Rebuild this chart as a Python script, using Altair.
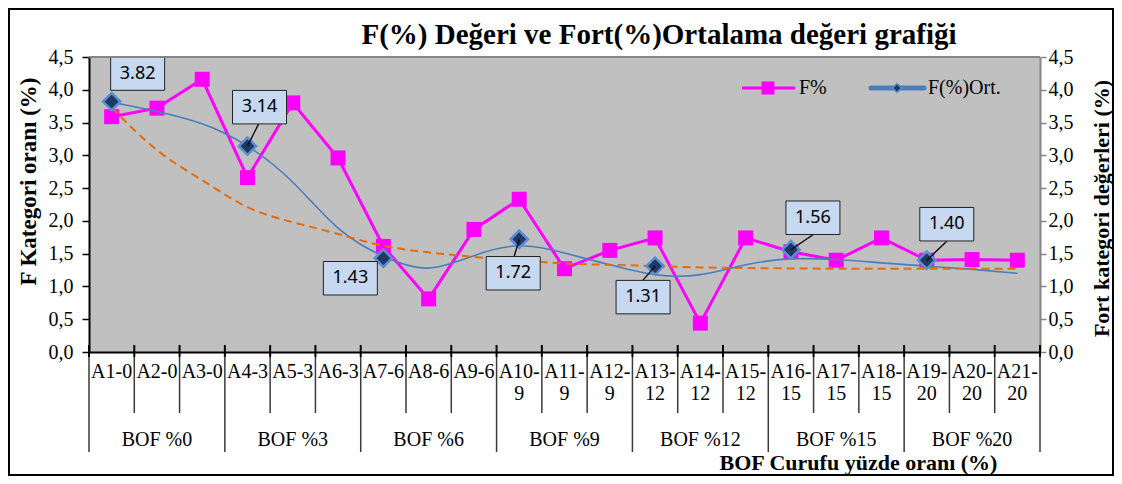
import altair as alt
import pandas as pd

# ---------------- data ----------------
CATEGORIES = ["A1-0", "A2-0", "A3-0", "A4-3", "A5-3", "A6-3", "A7-6", "A8-6", "A9-6",
              "A10-9", "A11-9", "A12-9", "A13-12", "A14-12", "A15-12", "A16-15",
              "A17-15", "A18-15", "A19-20", "A20-20", "A21-20"]
GROUPS = ["BOF %0"] * 3 + ["BOF %3"] * 3 + ["BOF %6"] * 3 + ["BOF %9"] * 3 + \
         ["BOF %12"] * 3 + ["BOF %15"] * 3 + ["BOF %20"] * 3
F_PCT = [3.59, 3.72, 4.16, 2.66, 3.80, 2.96, 1.61, 0.81, 1.87, 2.33, 1.27,
         1.55, 1.74, 0.44, 1.74, 1.53, 1.40, 1.74, 1.40, 1.41, 1.40]
F_ORT = [3.82, None, None, 3.14, None, None, 1.43, None, None, 1.72, None,
         None, 1.31, None, None, 1.56, None, None, 1.40, None, None]
ORT_TREND = [3.81, 3.67, 3.48, 3.14, 2.59, 1.89, 1.46, 1.28, 1.47, 1.62, 1.51,
             1.33, 1.18, 1.18, 1.33, 1.42, 1.41, 1.36, 1.31, 1.26, 1.20]
F_TREND = [3.73, 3.08, 2.62, 2.21, 1.98, 1.80, 1.62, 1.52, 1.45, 1.40, 1.35,
           1.33, 1.31, 1.29, 1.28, 1.275, 1.27, 1.27, 1.27, 1.27, 1.27]
Y_TICKS = [0.0, 0.5, 1.0, 1.5, 2.0, 2.5, 3.0, 3.5, 4.0, 4.5]

TITLE = "F(%) Değeri ve Fort(%)Ortalama değeri grafiği"
Y_LEFT_TITLE = "F Kategori oranı (%)"
Y_RIGHT_TITLE = "Fort kategori değerleri (%)"
X_TITLE = "BOF Curufu yüzde oranı (%)"
LEGEND = ["F%", "F(%)Ort."]

# label box offsets (pixels): idx, box dx, box dy, leader dx, leader dy
LABEL_STYLE = [(1, 26, -28, None, None), (4, 12, -39, 11, -22), (7, -33, 20, None, None),
               (10, -6, 34, -5, 17), (13, -12, 31, -12, 14), (16, 22, -32, 22, -15),
               (19, 20, -36, 20, -19)]

# ---------------- styling ----------------
W, H = 951, 295
SERIF = "Liberation Serif"
SANS = "Noto Sans"
MAGENTA = "#FF00FF"
BLUE = "#4A7EBB"
ORANGE = "#E46C0A"
NAVY = "#1F3864"
BOXFILL = "#C6D9F1"

n = len(CATEGORIES)
df = pd.DataFrame({
    "idx": list(range(1, n + 1)),
    "cat": CATEGORIES,
    "grp": GROUPS,
    "f": F_PCT,
    "ort": F_ORT,
    "ort_trend": ORT_TREND,
    "f_trend": F_TREND,
})

b_list, major = [], []
for k in range(n + 1):
    b_list.append(k + 0.5)
    major.append(k == 0 or k == n or GROUPS[k - 1] != GROUPS[k])
bounds = pd.DataFrame({"idx": b_list, "major": major})

one = pd.DataFrame({"a": [0]})

XSCALE = alt.Scale(domain=[0.5, n + 0.5], nice=False, zero=False)
YSCALE = alt.Scale(domain=[0, 4.5], nice=False, zero=True)


def xq(field):
    return alt.X(f"{field}:Q", scale=XSCALE,
                 axis=alt.Axis(ticks=False, labels=False, grid=False,
                               domainColor="black", domainWidth=2,
                               title=X_TITLE, titleFont=SERIF, titleFontSize=22,
                               titleFontWeight="bold", titleColor="black",
                               titleX=769, titleY=110, titleAlign="center",
                               titleBaseline="middle"))


LABEL_EXPR = "replace(format(datum.value, '.1f'), '.', ',')"


def yl(field):
    return alt.Y(f"{field}:Q", scale=YSCALE,
                 axis=alt.Axis(orient="left", values=Y_TICKS, labelExpr=LABEL_EXPR,
                               grid=False, domainColor="black", domainWidth=2,
                               tickColor="black", tickWidth=1.5, tickSize=7,
                               labelFont=SERIF, labelFontSize=20, labelColor="black",
                               labelPadding=9,
                               title=Y_LEFT_TITLE, titleFont=SERIF, titleFontSize=23,
                               titleFontWeight="bold", titleColor="black",
                               titleAngle=270, titleX=-61, titleY=124,
                               titleAlign="center", titleBaseline="middle"))


def yr(field):
    return alt.Y(f"{field}:Q", scale=YSCALE,
                 axis=alt.Axis(orient="right", values=Y_TICKS, labelExpr=LABEL_EXPR,
                               grid=False, domainColor="#868686", domainWidth=2,
                               tickColor="#868686", tickWidth=1.5, tickSize=6,
                               labelFont=SERIF, labelFontSize=20, labelColor="black",
                               labelPadding=2,
                               title=Y_RIGHT_TITLE, titleFont=SERIF, titleFontSize=22,
                               titleFontWeight="bold", titleColor="black",
                               titleAngle=270, titleX=61, titleY=151,
                               titleAlign="center", titleBaseline="middle"))


def yn(field):
    return alt.Y(f"{field}:Q", scale=YSCALE, axis=None)


base = alt.Chart(df)

# ---------------- left (F%) layers ----------------
f_line = base.mark_line(color=MAGENTA, strokeWidth=3).encode(x=xq("idx"), y=yl("f"))
f_pts = base.mark_point(shape="square", filled=True, color=MAGENTA, size=225,
                        opacity=1).encode(x=xq("idx"), y=yl("f"))
ort_tr = base.mark_line(color=BLUE, strokeWidth=1.6, interpolate="natural").encode(
    x=xq("idx"), y=yl("ort_trend"))
f_tr = base.mark_line(color=ORANGE, strokeWidth=2, strokeDash=[8, 5],
                      interpolate="natural").encode(x=xq("idx"), y=yl("f_trend"))
left = alt.layer(f_line, f_pts, ort_tr, f_tr)

# ---------------- right (Fort) layer ----------------
diamonds = base.transform_filter("isValid(datum.ort)").mark_point(
    shape="diamond", filled=True, fill=NAVY, stroke="#5B8DD0", strokeWidth=2.5,
    size=300, opacity=1).encode(x=xq("idx"), y=yr("ort"))

# ---------------- data labels ----------------
BOX = "M-1,-0.62H1V0.62H-1Z"
label_layers = []
for i, bdx, bdy, ldx, ldy in LABEL_STYLE:
    sub = base.transform_filter(f"datum.idx == {i}")
    if ldx is not None:
        label_layers.append(sub.mark_rule(color="black", strokeWidth=1.3,
                                          x2Offset=ldx, y2Offset=ldy).encode(
            x=xq("idx"), y=yn("ort"), x2=alt.X2("idx"), y2=alt.Y2("ort")))
    label_layers.append(sub.mark_point(shape=BOX, size=54 * 54, filled=True,
                                       fill=BOXFILL, stroke="#222222", strokeWidth=1,
                                       opacity=1, xOffset=bdx, yOffset=bdy).encode(
        x=xq("idx"), y=yn("ort")))
    label_layers.append(sub.mark_text(font=SANS, fontSize=18, color="black",
                                      align="center", baseline="middle",
                                      dx=bdx, dy=bdy).encode(
        x=xq("idx"), y=yn("ort"), text=alt.Text("ort:Q", format=".2f")))
labels = alt.layer(*label_layers)

# ---------------- decorations: frame, title, legend, category axis ----------------
frame = alt.Chart(one).mark_rect(fillOpacity=0, stroke="black", strokeWidth=2).encode(
    x=alt.value(-80), x2=alt.value(1024), y=alt.value(-48), y2=alt.value(418))
top_border = alt.Chart(one).mark_rule(color="#868686", strokeWidth=2).encode(
    x=alt.value(0), x2=alt.value(W), y=alt.value(0))
title = alt.Chart(one).mark_text(text=TITLE, font=SERIF, fontSize=29, fontWeight="bold",
                                 color="black", align="center", baseline="middle").encode(
    x=alt.value(570), y=alt.value(-22))

leg_f_line = alt.Chart(one).mark_rule(color=MAGENTA, strokeWidth=3).encode(
    x=alt.value(653), x2=alt.value(706), y=alt.value(31))
leg_f_pt = alt.Chart(one).mark_point(shape="square", filled=True, color=MAGENTA,
                                     size=169, opacity=1).encode(
    x=alt.value(679), y=alt.value(31))
leg_f_txt = alt.Chart(one).mark_text(text=LEGEND[0], font=SERIF, fontSize=20,
                                     color="black", align="left",
                                     baseline="middle").encode(
    x=alt.value(710), y=alt.value(31))
leg_o_line = alt.Chart(one).mark_rule(color=BLUE, strokeWidth=5, strokeCap="round").encode(
    x=alt.value(782), x2=alt.value(835), y=alt.value(31))
leg_o_pt = alt.Chart(one).mark_point(shape="diamond", filled=True, fill=NAVY,
                                     stroke="#5B8DD0", strokeWidth=1.5, size=80,
                                     opacity=1).encode(
    x=alt.value(808), y=alt.value(31))
leg_o_txt = alt.Chart(one).mark_text(text=LEGEND[1], font=SERIF, fontSize=20,
                                     color="black", align="left",
                                     baseline="middle").encode(
    x=alt.value(839), y=alt.value(31))

ticks = alt.Chart(bounds).mark_rule(color="black", strokeWidth=2).encode(
    x=xq("idx"), y=alt.value(288), y2=alt.value(300))
minor_sep = alt.Chart(bounds).transform_filter("!datum.major").mark_rule(
    color="#3a3a3a", strokeWidth=1.5).encode(x=xq("idx"), y=alt.value(300), y2=alt.value(356))
major_sep = alt.Chart(bounds).transform_filter("datum.major").mark_rule(
    color="#3a3a3a", strokeWidth=1.5).encode(x=xq("idx"), y=alt.value(300), y2=alt.value(395))

cat_text = base.transform_calculate(
    lab="length(datum.cat) > 4 ? replace(datum.cat, '-', '-\\n') : datum.cat"
).mark_text(font=SERIF, fontSize=20, color="black", align="center", baseline="top",
            lineBreak="\n", lineHeight=22).encode(
    x=xq("idx"), y=alt.value(305), text="lab:N")
grp_text = base.transform_aggregate(mid="mean(idx)", groupby=["grp"]).mark_text(
    font=SERIF, fontSize=20, color="black", align="center", baseline="middle").encode(
    x=xq("mid"), y=alt.value(383), text="grp:N")

deco = alt.layer(frame, top_border, title, ticks, minor_sep, major_sep, cat_text,
                 grp_text, leg_f_line, leg_f_pt, leg_f_txt, leg_o_line, leg_o_pt,
                 leg_o_txt)

chart = alt.layer(left, diamonds, labels, deco).resolve_scale(
    y="independent"
).properties(
    width=W, height=H,
    padding={"left": 81, "top": 49, "right": 74, "bottom": 124},
    autosize=alt.AutoSizeParams(type="none"),
    background="white",
).configure_view(fill="#C0C0C0", stroke="transparent")

chart.save("out.html", embed_options={"renderer": "svg", "actions": False})
